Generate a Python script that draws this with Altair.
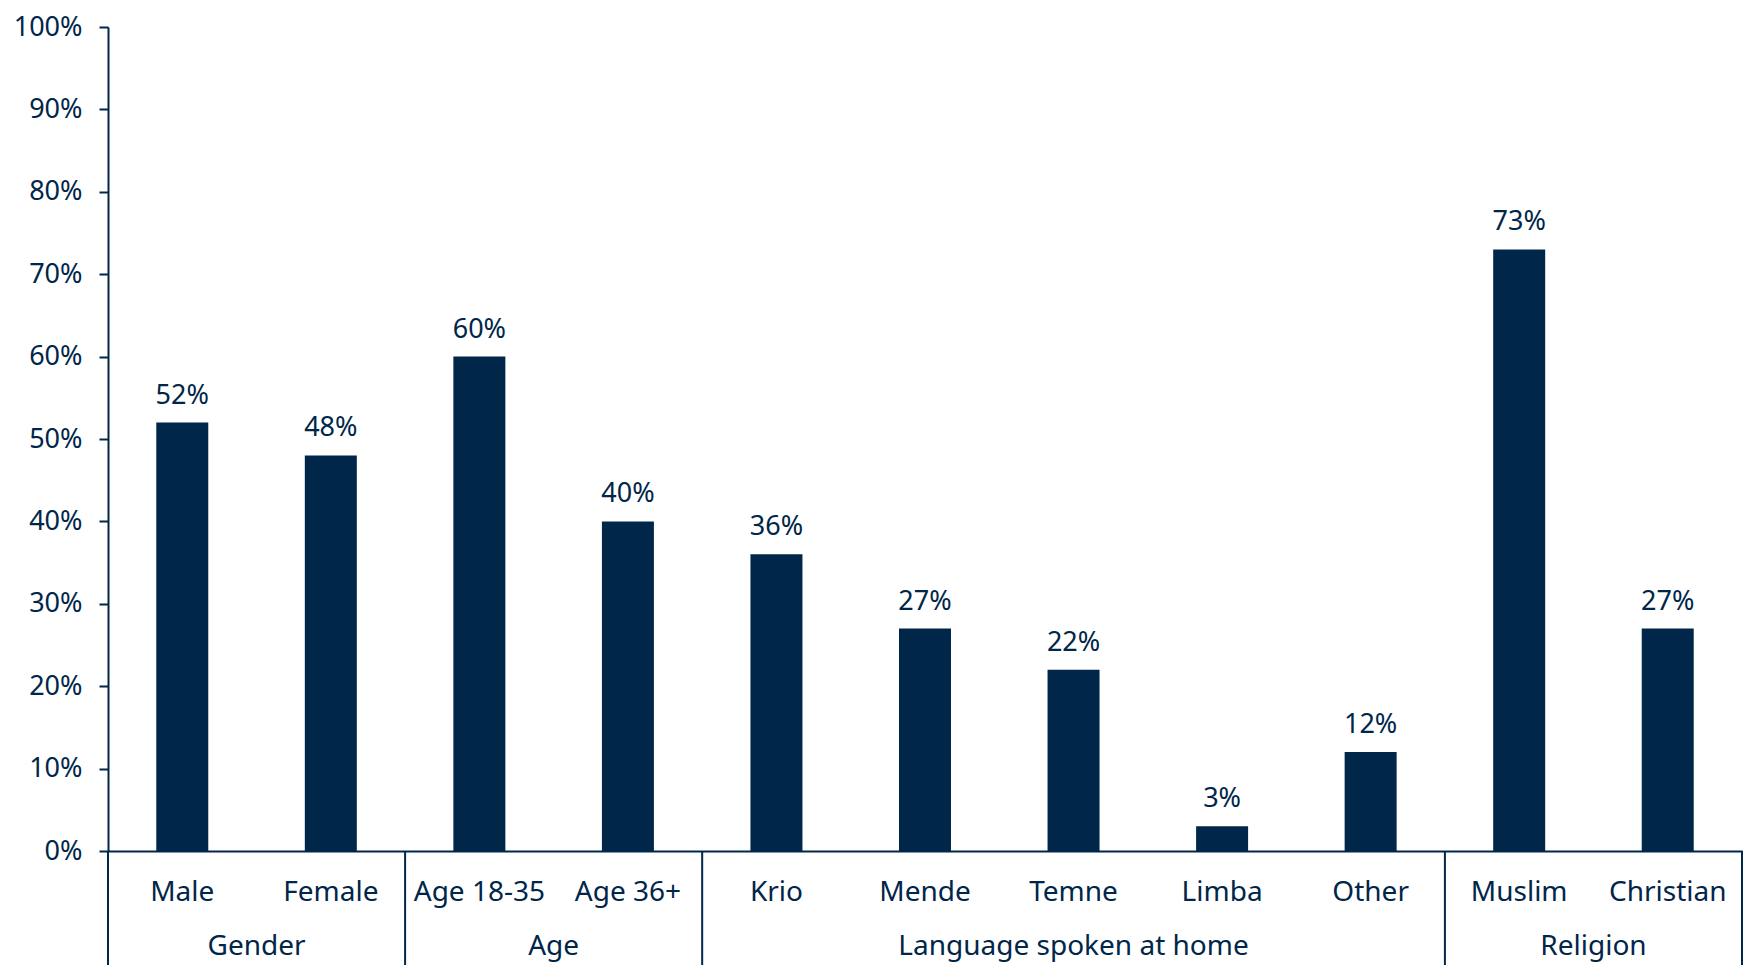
import altair as alt
import pandas as pd

categories = ["Male", "Female", "Age 18-35", "Age 36+", "Krio", "Mende", "Temne", "Limba", "Other", "Muslim", "Christian"]
values = [0.52, 0.48, 0.60, 0.40, 0.36, 0.27, 0.22, 0.03, 0.12, 0.73, 0.27]
groups = ["Gender", "Age", "Language spoken at home", "Religion"]
group_sizes = [2, 2, 5, 2]
y_ticks = [0, 0.1, 0.2, 0.3, 0.4, 0.5, 0.6, 0.7, 0.8, 0.9, 1.0]

NAVY = "#00264a"
FONT = "Noto Sans"
W, H = 1634, 824
BAR_HALF = 0.175

df = pd.DataFrame({
    "cat": categories,
    "val": values,
    "idx": [i + 0.5 for i in range(len(categories))],
})
df["x0"] = df["idx"] - BAR_HALF
df["x1"] = df["idx"] + BAR_HALF
df["lbl"] = [f"{round(v*100)}%" for v in values]

starts = []
s = 0
for n in group_sizes:
    starts.append(s)
    s += n
gdf = pd.DataFrame({
    "group": groups,
    "mid": [st + n / 2 for st, n in zip(starts, group_sizes)],
})
bdf = pd.DataFrame({"b": starts + [s]})

xs = alt.Scale(domain=[0, len(categories)], nice=False, zero=False)
ys = alt.Scale(domain=[0, 1], nice=False)

bars = alt.Chart(df).mark_rect(color=NAVY).encode(
    x=alt.X("x0:Q", scale=xs, axis=alt.Axis(labels=False, ticks=False, grid=False, title=None,
                                            domainColor=NAVY, domainWidth=2)),
    x2="x1:Q",
    y=alt.Y("val:Q", scale=ys, axis=alt.Axis(values=y_ticks, format=".0%", grid=False, title=None,
                                             domainColor=NAVY, domainWidth=2, tickColor=NAVY,
                                             tickWidth=2, tickSize=9, labelFont=FONT, labelFontSize=27,
                                             labelColor=NAVY, labelPadding=17)),
    y2=alt.datum(0),
)

labels = alt.Chart(df).mark_text(font=FONT, fontSize=27, color=NAVY, baseline="bottom", dy=-13).encode(
    x=alt.X("idx:Q", scale=xs),
    y=alt.Y("val:Q", scale=ys),
    text="lbl:N",
)

cat_text = alt.Chart(df).mark_text(font=FONT, fontSize=28, color=NAVY, baseline="middle").encode(
    x=alt.X("idx:Q", scale=xs),
    y=alt.value(H + 42),
    text="cat:N",
)

grp_text = alt.Chart(gdf).mark_text(font=FONT, fontSize=28, color=NAVY, baseline="middle").encode(
    x=alt.X("mid:Q", scale=xs),
    y=alt.value(H + 96),
    text="group:N",
)

dividers = alt.Chart(bdf).mark_rule(color=NAVY, strokeWidth=2).encode(
    x=alt.X("b:Q", scale=xs),
    y=alt.value(H),
    y2=alt.value(H + 130),
)

chart = alt.layer(bars, labels, cat_text, grp_text, dividers).properties(
    width=W, height=H,
    autosize=alt.AutoSizeParams(type="none"),
    padding={"left": 100, "top": 19, "right": 2, "bottom": 114},
).configure_view(stroke=None)

chart.save("out.html", embed_options={"renderer": "svg", "actions": False})
